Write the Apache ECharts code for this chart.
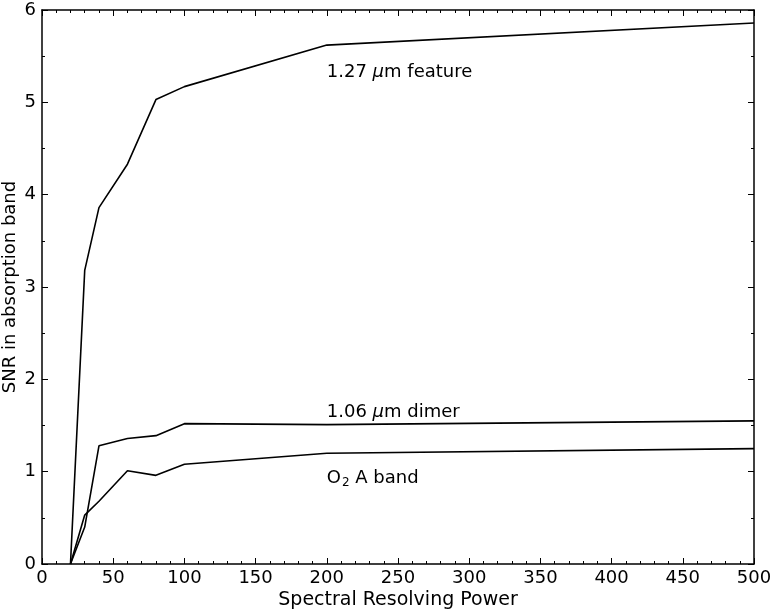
<!DOCTYPE html>
<html><head><meta charset="utf-8">
<script src="https://cdn.jsdelivr.net/npm/echarts@6/dist/echarts.min.js"></script>
<style>html,body{margin:0;padding:0;background:#fff}#c{width:773px;height:611px}</style>
</head><body><div id="c"></div>
<script>
var resolvingPower = [20, 30, 40, 60, 80, 100, 200, 500];
var feature127 = [0, 3.18, 3.86, 4.33, 5.03, 5.17, 5.62, 5.86];
var dimer106 = [0, 0.40, 1.28, 1.36, 1.39, 1.52, 1.51, 1.55];
var o2ABand = [0, 0.53, 0.68, 1.01, 0.96, 1.08, 1.20, 1.25];
var labelAnchors = [[200, 5.32], [200, 1.64], [200, 0.93]];

var F = 'DejaVu Sans';
var FS = 18;
function pairs(ys){ return resolvingPower.map(function(x,i){ return [x, ys[i]]; }); }
var labelTexts = [
  '{n|1.27 }{i|μ}{n|m feature}',
  '{n|1.06 }{i|μ}{n|m dimer}',
  '{n|O}{s|2}{n| A band}'
];
var rich = {
  n:{fontFamily:F,fontSize:FS,color:'#000'},
  i:{fontFamily:F,fontSize:FS,fontStyle:'italic',color:'#000'},
  s:{fontFamily:F,fontSize:12,color:'#000',padding:[10,0,0,1]}
};

function lineSeries(ys, idx){
  return {
    type:'line', data:pairs(ys), symbol:'none', animation:false,
    lineStyle:{color:'#000', width:1.6},
    markPoint:{ symbol:'circle', symbolSize:0, animation:false, data:[{
      coord: labelAnchors[idx],
      label:{ show:true, position:'right', distance:0, formatter: labelTexts[idx], rich: rich }
    }]}
  };
}

function ax(o, minorSplit){
  return Object.assign({
    axisLine:{show:true, onZero:false, lineStyle:{color:'#000', width:1.5}},
    axisTick:{show:true, inside:true, length:6, lineStyle:{color:'#000', width:1}},
    minorTick:{show:true, splitNumber:minorSplit, length:3, lineStyle:{color:'#000', width:1}},
    splitLine:{show:false}, minorSplitLine:{show:false}
  }, o);
}

var chart = echarts.init(document.getElementById('c'));
chart.setOption({
  backgroundColor:'#fff',
  animation:false,
  grid:{left:42, right:19, top:10, bottom:47, containLabel:false, outerBoundsMode:'none'},
  xAxis:[
    ax({type:'value', min:0, max:500, interval:50, position:'bottom',
      axisLabel:{fontFamily:F, fontSize:FS, color:'#000', margin:5},
      name:'Spectral Resolving Power', nameLocation:'middle', nameGap:27, nameMoveOverlap:false,
      nameTextStyle:{fontFamily:F, fontSize:19, color:'#000'}}, 5),
    ax({type:'value', min:0, max:500, interval:50, position:'top',
      axisLabel:{show:false}}, 5)
  ],
  yAxis:[
    ax({type:'value', min:0, max:6, interval:1, position:'left',
      axisLabel:{fontFamily:F, fontSize:FS, color:'#000', margin:6},
      name:'SNR in absorption band', nameLocation:'middle', nameGap:23, nameMoveOverlap:false,
      nameTextStyle:{fontFamily:F, fontSize:FS, color:'#000'}}, 2),
    ax({type:'value', min:0, max:6, interval:1, position:'right',
      axisLabel:{show:false}}, 2)
  ],
  series:[ lineSeries(feature127,0), lineSeries(dimer106,1), lineSeries(o2ABand,2) ]
});
</script>
</body></html>
